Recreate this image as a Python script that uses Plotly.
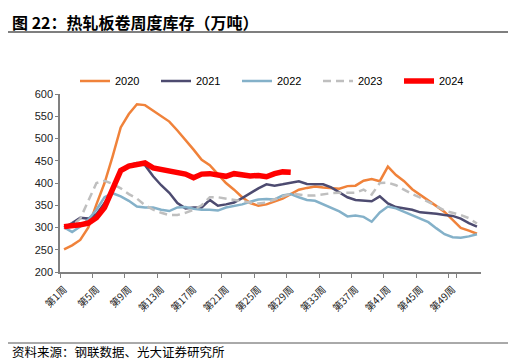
import plotly.graph_objects as go

weeks = [f"第{i}周" for i in range(1, 53)]
tick_labels = [f"第{i}周" for i in range(1, 53, 4)]

y2020 = [251, 260, 272, 300, 352, 400, 460, 525, 555, 577, 575, 562, 550, 538, 518, 497,
         475, 452, 440, 420, 400, 385, 368, 355, 349, 352, 358, 365, 375, 385, 389, 392,
         390, 388, 387, 393, 394, 405, 409, 404, 437, 418, 404, 386, 374, 360, 348, 335,
         316, 299, 293, 286]
y2021 = [300, 310, 322, 320, 330, 355, 385, 430, 440, 445, 440, 415, 395, 378, 355, 343,
         345, 345, 362, 349, 352, 356, 366, 378, 388, 397, 394, 397, 400, 404, 398, 397,
         397, 390, 378, 368, 362, 360, 359, 370, 354, 346, 343, 340, 334, 333, 331, 328,
         326, 320, 310, 302]
y2022 = [300, 290, 302, 318, 340, 368, 377, 370, 360, 347, 345, 345, 340, 337, 345, 346,
         342, 340, 340, 338, 345, 349, 352, 358, 363, 364, 363, 372, 375, 368, 362, 360,
         352, 344, 336, 325, 327, 324, 313, 334, 347, 343, 335, 327, 320, 312, 298, 285,
         278, 277, 280, 285]
y2023 = [300, 305, 320, 360, 400, 405, 398, 388, 375, 365, 350, 340, 333, 328, 328, 333,
         340, 350, 368, 368, 365, 362, 358, 356, 354, 356, 363, 370, 376, 374, 372, 372,
         375, 377, 378, 378, 378, 385, 374, 400, 401, 395, 385, 375, 367, 358, 348, 338,
         333, 328, 321, 309]
y2024 = [302, 303, 306, 310, 322, 345, 385, 428, 438, 442, 445, 434, 431, 427, 422, 420,
         412, 420, 421, 418, 415, 421, 418, 416, 417, 414, 421, 425, 424]

series = [
    ("2020", y2020, "#F0823A", 2.5, "solid"),
    ("2021", y2021, "#4D4B70", 2.5, "solid"),
    ("2022", y2022, "#84B1C9", 2.5, "solid"),
    ("2023", y2023, "#BFBFBF", 2.5, "8px,5px"),
    ("2024", y2024, "#FF0000", 5.5, "solid"),
]

fig = go.Figure()
for name, vals, color, width, dash in series:
    fig.add_trace(go.Scatter(
        x=weeks[:len(vals)], y=vals, mode="lines", name=name,
        line=dict(color=color, width=width, dash=dash),
    ))

font_family = "Liberation Sans, Arial, Noto Sans CJK SC, sans-serif"
cjk_family = "Noto Sans CJK SC, Liberation Sans, sans-serif"

PW, PH = 421, 178  # plot area size in px
TOP = 86

fig.update_layout(
    width=508, height=356,
    margin=dict(l=52, r=35, t=TOP, b=92, autoexpand=False),
    paper_bgcolor="white", plot_bgcolor="white",
    font=dict(family=font_family, size=11, color="#000000"),
    showlegend=True,
    legend=dict(
        orientation="h", x=15/PW, xanchor="left", y=1.073, yanchor="middle",
        entrywidth=36, entrywidthmode="pixels",
        font=dict(size=11, family=font_family), bgcolor="rgba(0,0,0,0)",
        traceorder="normal",
    ),
    xaxis=dict(
        type="category", categoryorder="array", categoryarray=weeks,
        range=[-0.5, 51.5], automargin=False,
        tickmode="array", tickvals=tick_labels, ticktext=tick_labels,
        tickson="boundaries", ticks="outside", ticklen=4, tickcolor="#808080",
        tickangle=-45, ticklabelstandoff=6,
        tickfont=dict(size=10, family=cjk_family, color="#222222"),
        showline=True, linecolor="#808080", linewidth=1.5,
        showgrid=False, zeroline=False,
    ),
    yaxis=dict(
        range=[200, 600], dtick=50, tick0=200, automargin=False,
        ticks="outside", ticklen=3, tickcolor="#808080",
        tickfont=dict(size=11, color="#222222"),
        showline=True, linecolor="#808080", linewidth=1.5,
        showgrid=False, zeroline=False,
    ),
)

fig.add_annotation(
    xref="paper", yref="paper", x=-49/PW, y=1 + (TOP - 0.5)/PH,
    xanchor="left", yanchor="top", showarrow=False, borderpad=0,
    text="<b>图 22：热轧板卷周度库存（万吨）</b>",
    font=dict(size=16, family=cjk_family, color="#000000"),
)
fig.add_annotation(
    xref="paper", yref="paper", x=-50/PW, y=-(351-272)/PH,
    xanchor="left", yanchor="middle", showarrow=False,
    text="资料来源：钢联数据、光大证券研究所",
    font=dict(size=12.5, family=cjk_family, color="#000000"),
)
fig.add_shape(type="line", xref="paper", yref="paper",
              x0=-52/PW, x1=450/PW, y0=(272-32)/PH, y1=(272-32)/PH,
              line=dict(color="#555555", width=1.5))
fig.add_shape(type="line", xref="paper", yref="paper",
              x0=-52/PW, x1=450/PW, y0=-(343-272)/PH, y1=-(343-272)/PH,
              line=dict(color="#555555", width=1))

fig.write_html("out.html")
